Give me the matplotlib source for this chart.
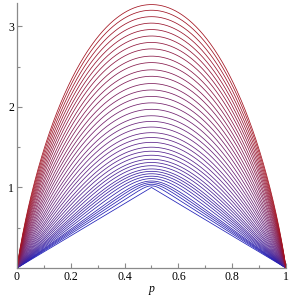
import numpy as np
import matplotlib
matplotlib.use("Agg")
import matplotlib.pyplot as plt
from matplotlib.ticker import MultipleLocator
from matplotlib.colors import LinearSegmentedColormap

# Peak height (value at p = 0.5) of each curve, top to bottom
peaks = [3.27, 3.20, 3.12, 3.04, 2.96, 2.88, 2.80, 2.72, 2.63, 2.55, 2.46, 2.38,
         2.29, 2.21, 2.13, 2.05, 1.97, 1.89, 1.82, 1.75, 1.68, 1.62, 1.56, 1.50,
         1.45, 1.40, 1.35, 1.31, 1.27, 1.23, 1.20, 1.17, 1.14, 1.11, 1.08, 1.06,
         1.04, 1.02, 1.00]
# Roundness of each curve (0 = straight tent, 2 = most rounded)
roundness = [2.000, 1.954, 1.900, 1.846, 1.791, 1.736, 1.681, 1.624, 1.560, 1.502,
             1.436, 1.377, 1.309, 1.248, 1.185, 1.122, 1.057, 0.991, 0.932, 0.872,
             0.810, 0.756, 0.700, 0.643, 0.594, 0.544, 0.492, 0.449, 0.405, 0.359,
             0.323, 0.286, 0.248, 0.207, 0.163, 0.131, 0.097, 0.058, 0.000]

x_ticks = [0, 0.2, 0.4, 0.6, 0.8, 1]
x_tick_labels = ["0", "0.2", "0.4", "0.6", "0.8", "1"]
y_ticks = [1, 2, 3]
y_tick_labels = ["1", "2", "3"]
x_label = "p"

p = np.linspace(0.0, 1.0, 1201)


def family(A, r):
    q = 1.0 - p
    if r <= 0:
        return A * 2.0 * np.minimum(p, q)
    k = 1.0 / r
    with np.errstate(divide="ignore", invalid="ignore"):
        L = np.logaddexp(-k * np.log(p), -k * np.log(q)) - np.log(2.0)
        m = 2.0 * np.exp(-L / k)
    m = np.nan_to_num(m, nan=0.0)
    return A * m


cmap = LinearSegmentedColormap.from_list(
    "br", [(0.12, 0.12, 0.72), (0.40, 0.14, 0.50), (0.64, 0.07, 0.12)])

fig = plt.figure(figsize=(2.89, 2.97), dpi=100)
ax = fig.add_axes([0.0588, 0.0976, 0.9308, 0.8924])

n = len(peaks)
for i in range(n - 1, -1, -1):
    t = 1.0 - i / (n - 1)
    ax.plot(p, family(peaks[i], roundness[i]), color=cmap(t), lw=0.55,
            solid_capstyle="butt")

ax.set_xlim(0, 1)
ax.set_ylim(0, 3.29)

for s in ["top", "right"]:
    ax.spines[s].set_visible(False)
for s in ["left", "bottom"]:
    ax.spines[s].set_color("#8a8a8a")
    ax.spines[s].set_linewidth(0.9)

serif = "Liberation Serif"
ax.set_xticks(x_ticks)
ax.set_xticklabels(x_tick_labels, fontfamily=serif, fontsize=8.5)
ax.set_yticks(y_ticks)
ax.set_yticklabels(y_tick_labels, fontfamily=serif, fontsize=8.5)
ax.xaxis.set_minor_locator(MultipleLocator(0.1))
ax.yaxis.set_minor_locator(MultipleLocator(0.5))
ax.tick_params(which="both", direction="in", color="#8a8a8a", width=0.8)
ax.tick_params(which="major", length=3.5, pad=2)
ax.tick_params(which="minor", length=2)
ax.set_xlabel(x_label, fontfamily=serif, fontstyle="italic", fontsize=8.5, labelpad=0.5)

fig.savefig("out.png", dpi=100)
